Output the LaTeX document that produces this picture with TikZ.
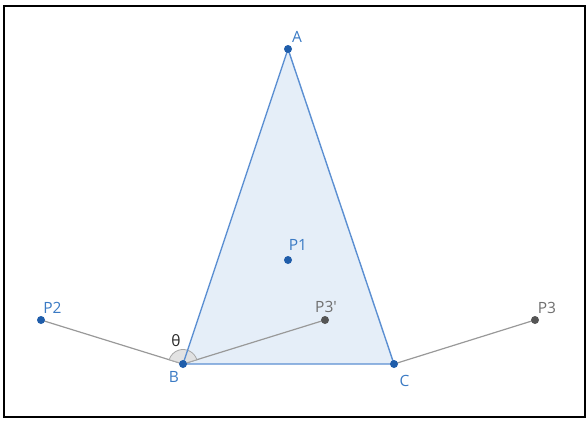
\documentclass[tikz,border=0pt]{standalone}
\usepackage{fontspec}
\setmainfont{Open Sans}
\begin{document}
\begin{tikzpicture}[x=1pt,y=-1pt,
  bluept/.style={circle,fill=ptblue,inner sep=0pt,minimum size=8pt},
  graypt/.style={circle,fill=ptgray,inner sep=0pt,minimum size=8pt},
  bluelbl/.style={text=lblblue,font=\fontsize{15.5}{17}\selectfont,inner sep=0pt},
  graylbl/.style={text=lblgray,font=\fontsize{15.5}{17}\selectfont,inner sep=0pt},
  edge/.style={draw=edgeblue,line width=1.4pt},
  seg/.style={draw=seggray,line width=1.2pt}]
\definecolor{ptblue}{HTML}{1F5DAA}
\definecolor{edgeblue}{HTML}{5B8FD2}
\definecolor{fillblue}{HTML}{E5EEF8}
\definecolor{lblblue}{HTML}{3A7AC4}
\definecolor{lblgray}{HTML}{707070}
\definecolor{ptgray}{HTML}{555555}
\definecolor{seggray}{HTML}{999999}
\useasboundingbox (0,0) rectangle (587,423);
\draw[line width=2pt,black] (4,6) rectangle (585,417);
\coordinate (A) at (288,49);
\coordinate (B) at (183,364);
\coordinate (C) at (394,364);
\fill[fillblue] (A) -- (B) -- (C) -- cycle;
\draw[seg] (B) -- (41,320) coordinate (P2c);
\draw[seg] (B) -- (325,320) coordinate (P3pc);
\draw[seg] (C) -- (535,320) coordinate (P3c);
\filldraw[fill=black!12,draw=black!35,line width=0.8pt,fill opacity=0.9] (B) -- ++(-17.2:14.5) arc[start angle=-17.2,end angle=-162.8,radius=14.5] -- cycle;
\draw[edge] (A) -- (B) -- (C) -- cycle;
\node[bluept] (nA) at (A) {};
\node[bluept] (nB) at (B) {};
\node[bluept] (nC) at (C) {};
\node[bluept] (nP1) at (288,260) {};
\node[bluept] (nP2) at (P2c) {};
\node[graypt] (nP3) at (P3c) {};
\node[graypt] (nP3p) at (P3pc) {};
\node[bluelbl] (lA) at (297,36.5) {A};
\node[bluelbl] (lB) at (174,376.5) {B};
\node[bluelbl] (lC) at (404.5,381) {C};
\node[bluelbl] (lP1) at (298,245) {P1};
\node[bluelbl] (lP2) at (52.5,308) {P2};
\node[graylbl] (lP3) at (547,307.5) {P3};
\node[graylbl] (lP3p) at (326,307) {P3\textquotesingle};
\node[text=black!85,font=\fontsize{15.5}{17}\selectfont,inner sep=0pt] (lth) at (176,340.5) {θ};
\end{tikzpicture}
\end{document}
